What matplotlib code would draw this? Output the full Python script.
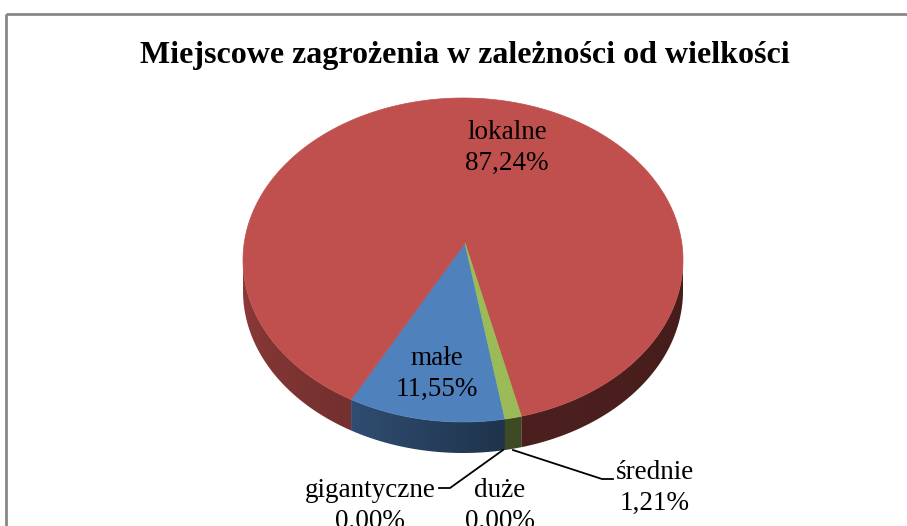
import numpy as np
import matplotlib.pyplot as plt
from matplotlib.colors import to_rgb
from matplotlib.patches import Polygon, Rectangle

# data (clockwise order as drawn, starting at the lower boundary)
categories = ['gigantyczne', 'duże', 'małe', 'lokalne', 'średnie']
shares = [0.00, 0.00, 11.55, 87.24, 1.21]
colors = ['#7F7F7F', '#8064A2', '#4F81BD', '#C0504D', '#9BBB59']
title = 'Miejscowe zagrożenia w zależności od wielkości'

# pie geometry in pixels
cx, cy = 463, 260
ra, rb = 220, 162
depth = 31
apex = (465, 243)
start = -79.0

plt.rcParams['font.family'] = ['Liberation Serif', 'DejaVu Serif']

fig = plt.figure(figsize=[9.07, 5.26], dpi=100)
ax = fig.add_axes([0, 0, 1, 1])

ax.add_patch(Rectangle((6, 13.5), 940, 600, fill=False, ec='#878787', lw=2))


def pt(theta, dz=0):
    t = np.radians(theta)
    return cx + ra * np.cos(t), cy - rb * np.sin(t) + dz


# lighting of the side wall, by angle on the lower half
def shade(theta):
    return np.interp(theta, [180, 240, 280, 360], [0.74, 0.6, 0.4, 0.36])


edges = [start]
for s in shares:
    edges.append(edges[-1] - s / 100 * 360)

# side walls with a horizontal gradient
xs = np.linspace(cx - ra, cx + ra, 600)
th_x = 180 + np.degrees(np.arccos(np.clip(-(xs - cx) / ra, -1, 1)))
for i, s in enumerate(shares):
    if s <= 0:
        continue
    t0, t1 = edges[i + 1], edges[i]
    ths = np.linspace(t0, t1, int(abs(t1 - t0) * 3) + 2)
    vis = np.mod(ths, 360) >= 180
    # split into contiguous visible runs
    runs, cur = [], []
    for t, v in zip(ths, vis):
        if v:
            cur.append(t)
        elif cur:
            runs.append(cur)
            cur = []
    if cur:
        runs.append(cur)
    base = np.array(to_rgb(colors[i]))
    img = np.clip(base[None, None, :] * shade(th_x)[None, :, None], 0, 1)
    for run in runs:
        if len(run) < 2:
            continue
        top = [pt(t) for t in run]
        bot = [pt(t, depth) for t in run[::-1]]
        poly = Polygon(top + bot, closed=True, fc='none', ec='none')
        ax.add_patch(poly)
        im = ax.imshow(img, extent=(cx - ra, cx + ra, cy + rb + depth + 5, cy - 5),
                       aspect='auto', interpolation='bilinear', zorder=1)
        im.set_clip_path(poly)

ax.set_xlim(0, 907)
ax.set_ylim(526, 0)
ax.axis('off')

# top faces
for i, s in enumerate(shares):
    if s <= 0:
        continue
    t0, t1 = edges[i + 1], edges[i]
    ths = np.linspace(t0, t1, int(abs(t1 - t0) * 2) + 2)
    verts = [apex] + [pt(t) for t in ths]
    ax.add_patch(Polygon(verts, closed=True, fc=colors[i], ec=colors[i], lw=0.5, zorder=2))

ax.text(465, 55, title, ha='center', va='center', fontsize=23, fontweight='bold')


def lab(i):
    return '%s\n%s%%' % (categories[i], ('%.2f' % shares[i]).replace('.', ','))


fs = 19.5
kw = dict(ha='center', va='center', fontsize=fs, linespacing=1.32, zorder=3)
ax.text(507, 148, lab(3), **kw)
ax.text(437, 374, lab(2), **kw)
ax.text(655, 488, lab(4), **kw)
ax.text(370, 506, lab(0), **kw)
ax.text(500, 506, lab(1), **kw)

# leader lines
ax0 = pt(start, depth)
ax.plot([439, 450, ax0[0] - 2], [488, 488, ax0[1]], color='black', lw=1.3, zorder=3)
ax.plot([ax0[0] + 8, 602, 613], [ax0[1], 479, 479], color='black', lw=1.3, zorder=3)

fig.savefig('out.png', dpi=100)
